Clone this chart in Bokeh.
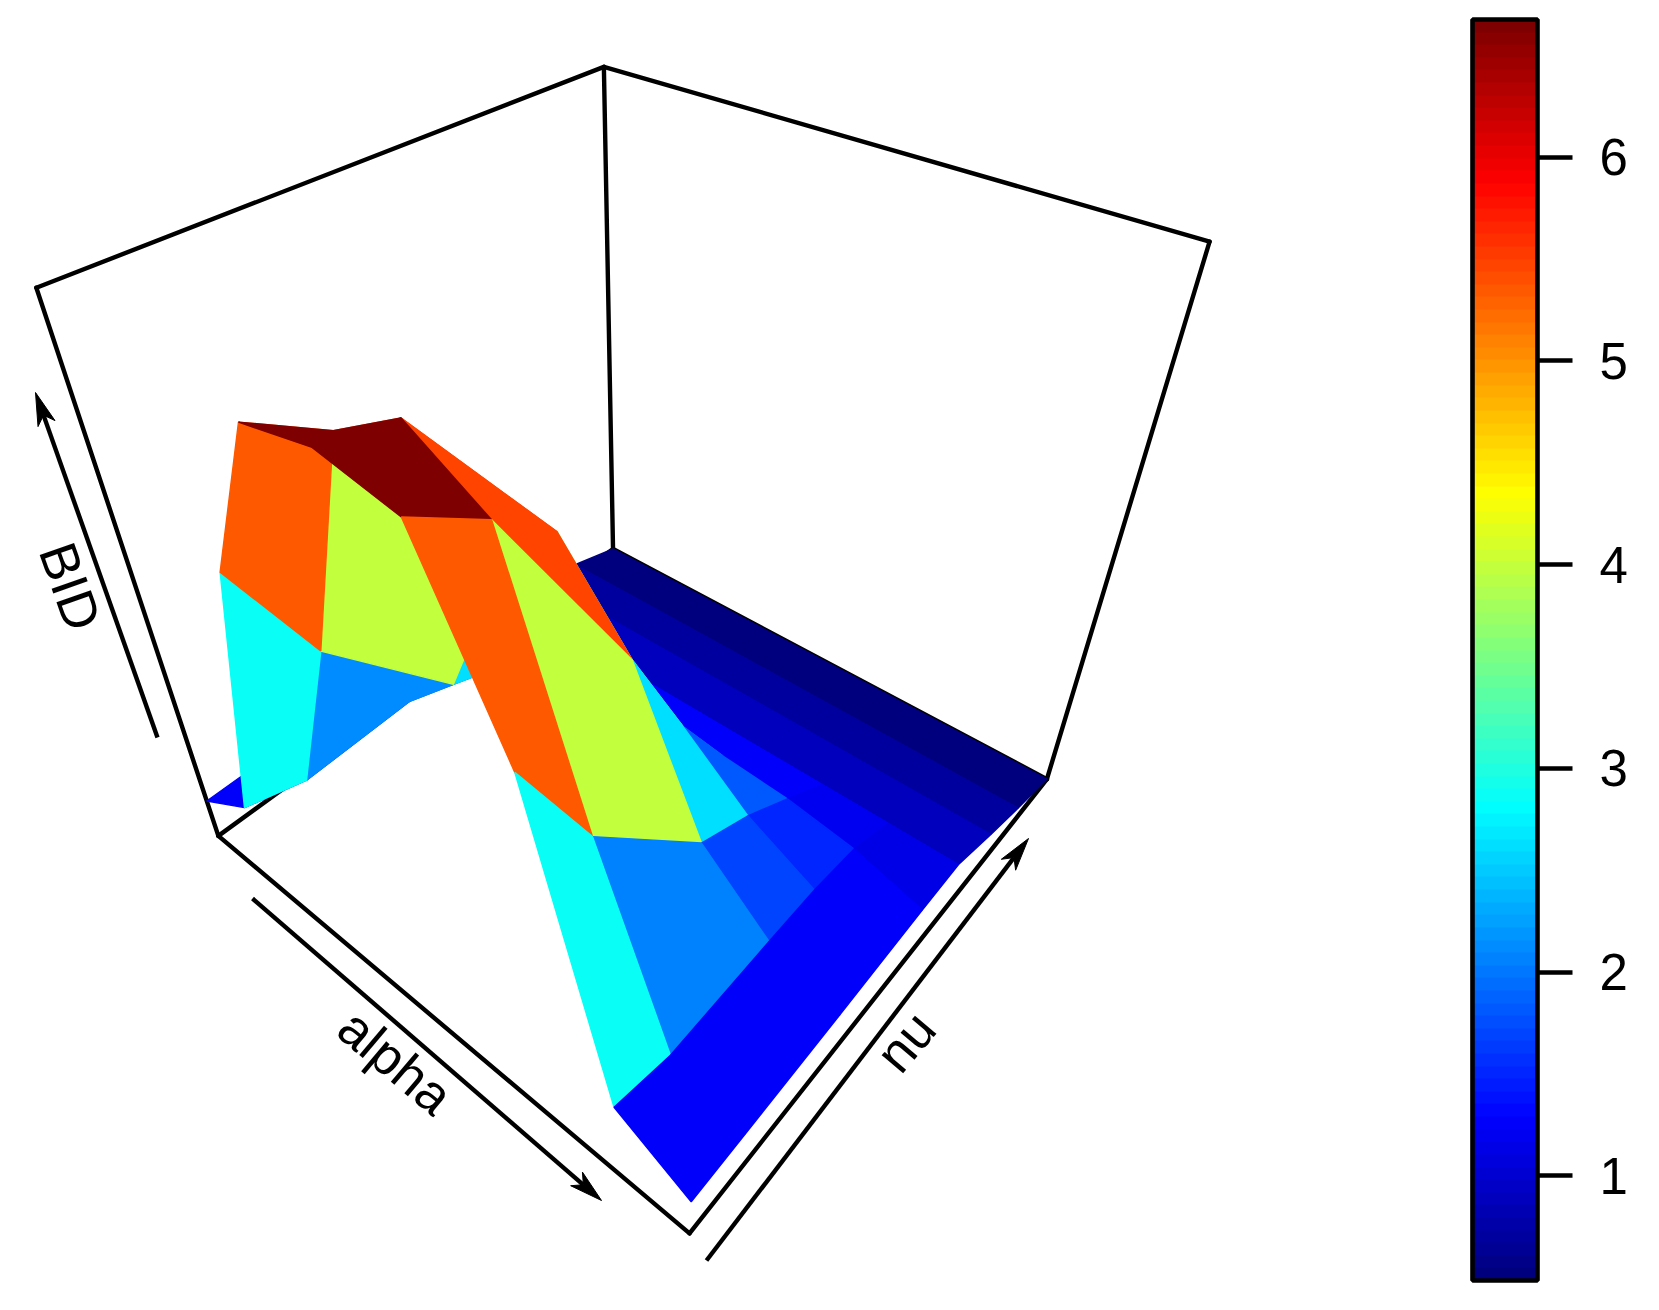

import numpy as np
from bokeh.embed import file_html
from bokeh.resources import INLINE
from bokeh.plotting import figure
from bokeh.models import Range1d, ColorBar, LinearColorMapper, FixedTicker, Label

# surface data: BID over the alpha / nu grid
alpha = [0.0, 0.125, 0.25, 0.375, 0.5, 0.625, 0.75, 0.875, 1.0]
nu = [0.0, 0.112, 0.332, 0.445, 0.553, 0.66, 0.776, 0.882, 1.0]
bid_a0 = [0.96, 0.97, 0.99, 1.01, 1.03, 1.04, 0.79, 0.58, 0.38]
bid_a1 = [1.48, 1.25, 1.30, 1.37, 1.30, 1.04, 0.79, 0.58, 0.38]
bid_a2 = [4.99, 3.60, 2.09, 1.83, 1.44, 1.04, 0.79, 0.58, 0.38]
bid_a3 = [6.75, 6.31, 3.94, 2.52, 1.50, 1.04, 0.79, 0.58, 0.38]
bid_a4 = [6.90, 6.76, 4.92, 3.00, 1.56, 1.04, 0.79, 0.58, 0.38]
bid_a5 = [6.74, 6.29, 3.94, 2.52, 1.50, 1.04, 0.79, 0.58, 0.38]
bid_a6 = [4.98, 3.60, 2.13, 1.83, 1.44, 1.04, 0.79, 0.58, 0.38]
bid_a7 = [1.49, 1.31, 1.36, 1.37, 1.30, 1.04, 0.79, 0.58, 0.38]
bid_a8 = [0.96, 0.97, 0.99, 1.01, 1.03, 1.04, 0.79, 0.58, 0.38]
bid_limits = (0.38, 6.94)

# colour variable of the facets
col_a0 = [1.00, 1.12, 1.12, 1.15, 1.08, 1.04, 0.79, 0.58, 0.38]
col_a1 = [1.60, 1.40, 1.36, 1.37, 1.33, 1.04, 0.79, 0.58, 0.38]
col_a2 = [4.90, 3.50, 2.13, 1.83, 1.44, 1.04, 0.79, 0.58, 0.38]
col_a3 = [6.70, 6.22, 4.00, 2.52, 1.50, 1.04, 0.79, 0.58, 0.38]
col_a4 = [6.90, 6.76, 4.82, 3.00, 1.56, 1.04, 0.79, 0.58, 0.38]
col_a5 = [6.70, 6.22, 4.00, 2.52, 1.50, 1.04, 0.79, 0.58, 0.38]
col_a6 = [4.90, 3.50, 2.10, 1.83, 1.44, 1.04, 0.79, 0.58, 0.38]
col_a7 = [1.60, 1.40, 1.36, 1.37, 1.33, 1.04, 0.79, 0.58, 0.38]
col_a8 = [1.00, 1.12, 1.12, 1.15, 1.08, 1.04, 0.79, 0.58, 0.38]
key_limits = (0.486, 6.675)
tick_values = [1, 2, 3, 4, 5, 6]

BID = np.array([bid_a0, bid_a1, bid_a2, bid_a3, bid_a4, bid_a5, bid_a6, bid_a7, bid_a8])
COL = np.array([col_a0, col_a1, col_a2, col_a3, col_a4, col_a5, col_a6, col_a7, col_a8])

# perspective camera of the 3D view, applied to the unit box
CAMERA = np.array([[313.376019, 562.947389, -192.769592, 217.850553],
                   [115.106799, -136.305957, -634.365605, 835.35968],
                   [-0.229035, 0.2747, -0.300135, 1.0]])


def project(a, n, z):
    h = CAMERA @ np.array([a, n, z, 1.0])
    return h[0] / h[2], h[1] / h[2]


def jet(count):
    stops = ["#00007F", "#0000FF", "#007FFF", "#00FFFF", "#7FFF7F", "#FFFF00", "#FF7F00", "#FF0000", "#7F0000"]
    rgb = np.array([[int(s[i:i + 2], 16) for i in (1, 3, 5)] for s in stops], float)
    pos = np.linspace(0, 1, len(stops))
    t = np.linspace(0, 1, count)
    out = np.stack([np.interp(t, pos, rgb[:, k]) for k in range(3)], axis=1).round().astype(int)
    return ["#%02X%02X%02X" % tuple(c) for c in out]


palette = jet(100)
means = (COL[:-1, :-1] + COL[1:, :-1] + COL[:-1, 1:] + COL[1:, 1:]) / 4

W, H = 1643, 1294
p = figure(width=W, height=H, output_backend="svg", toolbar_location=None,
           x_range=Range1d(0, W), y_range=Range1d(H, 0),
           min_border=0, outline_line_color=None, background_fill_color="white")
p.xaxis.visible = False
p.yaxis.visible = False
p.grid.visible = False

# box edges
edges = [((0, 0, 1), (0, 1, 1)), ((0, 1, 1), (1, 1, 1)), ((0, 1, 1), (0, 1, 0)),
         ((0, 0, 1), (0, 0, 0)), ((1, 1, 1), (1, 1, 0)),
         ((0, 0, 0), (1, 0, 0)), ((1, 0, 0), (1, 1, 0)),
         ((0, 0, 0), (0, 1, 0)), ((0, 1, 0), (1, 1, 0))]
for s, e in edges:
    (x0, y0), (x1, y1) = project(*s), project(*e)
    p.line([x0, x1], [y0, y1], line_color="black", line_width=4.4, line_cap="round")

# surface, painted from far to near
a_norm = (np.array(alpha) - alpha[0]) / (alpha[-1] - alpha[0])
n_norm = (np.array(nu) - nu[0]) / (nu[-1] - nu[0])
z_norm = (BID - bid_limits[0]) / (bid_limits[1] - bid_limits[0])
for i in range(len(alpha) - 1):
    for j in range(len(nu) - 2, -1, -1):
        corners = [(i, j), (i, j + 1), (i + 1, j + 1), (i + 1, j)]
        pts = [project(a_norm[u], n_norm[v], z_norm[u, v]) for u, v in corners]
        k = int((means[i, j] - key_limits[0]) / (key_limits[1] - key_limits[0]) * 100)
        c = palette[max(min(k, 99), 0)]
        p.patch([q[0] for q in pts], [q[1] for q in pts], fill_color=c, line_color=c, line_width=1.4)

# axis arrows and titles
for (x0, y0, x1, y1) in [(252, 898, 601, 1200), (157, 737, 35, 392), (706, 1260, 1028, 838)]:
    d = np.array([x1 - x0, y1 - y0], float)
    d /= np.hypot(*d)
    perp = np.array([-d[1], d[0]])
    tip = np.array([x1, y1], float)
    notch = tip - 24 * d
    p.line([x0, notch[0]], [y0, notch[1]], line_color="black", line_width=4.4)
    wing1, wing2 = tip - 33 * d + 9 * perp, tip - 33 * d - 9 * perp
    p.patch([tip[0], wing1[0], notch[0], wing2[0]], [tip[1], wing1[1], notch[1], wing2[1]],
            fill_color="black", line_color="black", line_width=1)

FONT = "Liberation Sans"
for txt, x, y, ang in [("alpha", 395, 1061, -0.70), ("BID", 70, 586, -1.23), ("nu", 905, 1041, 0.87)]:
    p.add_layout(Label(x=x, y=y, text=txt, angle=ang, text_font=FONT, text_font_size="53px",
                       text_align="center", text_baseline="middle", text_color="black"))

# colour key
bar = ColorBar(color_mapper=LinearColorMapper(palette=palette, low=key_limits[0], high=key_limits[1]),
               ticker=FixedTicker(ticks=tick_values), width=65, height=1261,
               location=(1472, H - 1280), padding=0,
               bar_line_color="black", bar_line_width=4.6,
               major_tick_in=0, major_tick_out=35, major_tick_line_color="black", major_tick_line_width=4.4,
               minor_tick_line_color=None, label_standoff=27,
               major_label_text_font=FONT, major_label_text_font_size="51px", major_label_text_color="black",
               background_fill_alpha=0, border_line_color=None)
p.add_layout(bar)

open("out.html", "w").write(file_html(p, INLINE))
